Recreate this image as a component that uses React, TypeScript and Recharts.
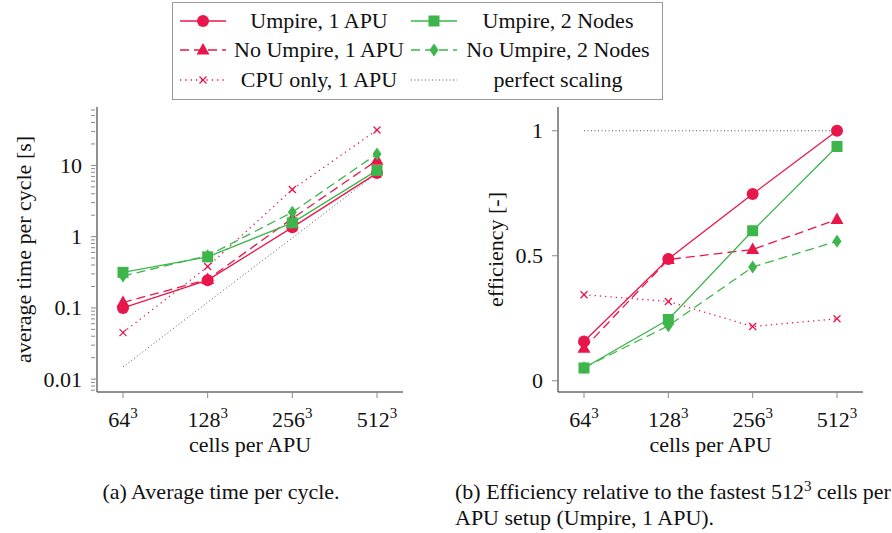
import { LineChart, Line, XAxis, YAxis } from 'recharts';

// cells per APU (shown as N^3)
const categories = ['64', '128', '256', '512'];

// average time per cycle [s]
const umpire1Time = [0.1, 0.245, 1.35, 7.8];
const umpire2Time = [0.315, 0.52, 1.56, 8.5];
const noUmpire1Time = [0.119, 0.25, 1.8, 11.8];
const noUmpire2Time = [0.28, 0.54, 2.2, 14.5];
const cpuOnlyTime = [0.045, 0.38, 4.6, 31.4];
const perfectTime = [0.0148, 0.12, 0.96, 7.8];

// efficiency [-]
const umpire1Eff = [0.157, 0.487, 0.747, 1.0];
const umpire2Eff = [0.051, 0.245, 0.6, 0.937];
const noUmpire1Eff = [0.13, 0.485, 0.525, 0.645];
const noUmpire2Eff = [0.052, 0.22, 0.455, 0.558];
const cpuOnlyEff = [0.344, 0.317, 0.217, 0.248];
const perfectEff = [1, 1, 1, 1];

const timeMajorTicks = [0.01, 0.1, 1, 10];
const timeMinorTicks = [
  0.007, 0.008, 0.009,
  0.02, 0.03, 0.04, 0.05, 0.06, 0.07, 0.08, 0.09,
  0.2, 0.3, 0.4, 0.5, 0.6, 0.7, 0.8, 0.9,
  2, 3, 4, 5, 6, 7, 8, 9,
  20, 30, 40, 50, 60,
];
const effTicks = [0, 0.5, 1];

const RED = '#e8174b';
const GREEN = '#3db54a';
const TICK = '#8a8a8a';
const FONT = '"Liberation Serif", serif';

type Marker = 'circle' | 'square' | 'triangle' | 'diamond' | 'cross' | 'none';

const series: { key: string; name: string; color: string; dash?: string; marker: Marker }[] = [
  { key: 'umpire1', name: 'Umpire, 1 APU', color: RED, marker: 'circle' },
  { key: 'umpire2', name: 'Umpire, 2 Nodes', color: GREEN, marker: 'square' },
  { key: 'noUmpire1', name: 'No Umpire, 1 APU', color: RED, dash: '9 5', marker: 'triangle' },
  { key: 'noUmpire2', name: 'No Umpire, 2 Nodes', color: GREEN, dash: '9 5', marker: 'diamond' },
  { key: 'cpuOnly', name: 'CPU only, 1 APU', color: RED, dash: '1.3 4', marker: 'cross' },
  { key: 'perfect', name: 'perfect scaling', color: '#555', dash: '1 2.5', marker: 'none' },
];

// back to front
const drawOrder = ['perfect', 'cpuOnly', 'noUmpire1', 'noUmpire2', 'umpire1', 'umpire2'];

const timeData = categories.map((c, i) => ({
  x: c,
  umpire1: umpire1Time[i],
  umpire2: umpire2Time[i],
  noUmpire1: noUmpire1Time[i],
  noUmpire2: noUmpire2Time[i],
  cpuOnly: cpuOnlyTime[i],
  perfect: perfectTime[i],
}));

const effData = categories.map((c, i) => ({
  x: c,
  umpire1: umpire1Eff[i],
  umpire2: umpire2Eff[i],
  noUmpire1: noUmpire1Eff[i],
  noUmpire2: noUmpire2Eff[i],
  cpuOnly: cpuOnlyEff[i],
  perfect: perfectEff[i],
}));

function MarkerShape({ cx, cy, marker, color }: { cx: number; cy: number; marker: Marker; color: string }) {
  switch (marker) {
    case 'circle':
      return <circle cx={cx} cy={cy} r={6} fill={color} />;
    case 'square':
      return <rect x={cx - 5.5} y={cy - 5.5} width={11} height={11} fill={color} />;
    case 'triangle':
      return <polygon points={`${cx},${cy - 7} ${cx - 6.5},${cy + 4.5} ${cx + 6.5},${cy + 4.5}`} fill={color} />;
    case 'diamond':
      return <polygon points={`${cx},${cy - 6.5} ${cx + 4.5},${cy} ${cx},${cy + 6.5} ${cx - 4.5},${cy}`} fill={color} />;
    case 'cross':
      return (
        <g stroke={color} strokeWidth={1.3}>
          <line x1={cx - 3.5} y1={cy - 3.5} x2={cx + 3.5} y2={cy + 3.5} />
          <line x1={cx - 3.5} y1={cy + 3.5} x2={cx + 3.5} y2={cy - 3.5} />
        </g>
      );
    default:
      return null;
  }
}

const makeDot = (key: string, marker: Marker, color: string) => (props: any) => {
  const { cx, cy, index } = props;
  if (marker === 'none' || cx == null || cy == null) return <g key={`${key}-${index}`} />;
  return (
    <g key={`${key}-${index}`}>
      <MarkerShape cx={cx} cy={cy} marker={marker} color={color} />
    </g>
  );
};

function XTick(props: any) {
  const { x, y, payload, top } = props;
  if (top) return <line x1={x} x2={x} y1={y} y2={y + 7} stroke={TICK} />;
  return (
    <g>
      <line x1={x} x2={x} y1={y} y2={y - 7} stroke={TICK} />
      <text x={x} y={y + 29} textAnchor="middle" fontSize={22} style={{ fontFamily: FONT }} fill="#111">
        {payload.value}
        <tspan dy={-9} fontSize={15}>3</tspan>
      </text>
    </g>
  );
}

function YTick(props: any) {
  const { x, y, payload, side, majors } = props;
  const major = majors.includes(payload.value);
  const len = major ? 7 : 4;
  const dir = side === 'left' ? 1 : -1;
  return (
    <g>
      <line x1={x} x2={x + dir * len} y1={y} y2={y} stroke={TICK} />
      {side === 'left' && major && (
        <text x={x - 9} y={y + 7.5} textAnchor="end" fontSize={22} style={{ fontFamily: FONT }} fill="#111">
          {String(payload.value)}
        </text>
      )}
    </g>
  );
}

function renderLines(data: 'time' | 'eff') {
  return drawOrder.map(k => {
    const s = series.find(v => v.key === k)!;
    return (
      <Line
        key={`${data}-${k}`}
        yAxisId="left"
        dataKey={k}
        stroke={s.color}
        strokeWidth={s.key === 'perfect' ? 1 : 1.3}
        strokeDasharray={s.dash}
        dot={s.marker === 'none' ? false : makeDot(`${data}-${k}`, s.marker, s.color)}
        activeDot={false}
        isAnimationActive={false}
      />
    );
  });
}

function LegendBox() {
  const rows = [
    ['umpire1', 'umpire2'],
    ['noUmpire1', 'noUmpire2'],
    ['cpuOnly', 'perfect'],
  ];
  const rowCenters = [19, 48, 78];
  const sampleCenters = [31, 262];
  const textCenters = [146, 385];
  return (
    <div
      style={{
        position: 'absolute',
        left: 172,
        top: 2,
        width: 491,
        height: 98,
        boxSizing: 'border-box',
        border: '1px solid #999',
        background: '#fff',
        fontFamily: FONT,
        fontSize: 22,
        color: '#111',
      }}
    >
      {rows.map((row, r) =>
        row.map((k, c) => {
          const s = series.find(v => v.key === k)!;
          return (
            <div key={k}>
              <svg
                width={46}
                height={14}
                style={{ position: 'absolute', left: sampleCenters[c] - 24, top: rowCenters[r] - 8 }}
              >
                <line x1={0} x2={46} y1={7} y2={7} stroke={s.color} strokeWidth={s.key === 'perfect' ? 1 : 1.3} strokeDasharray={s.dash} />
                <MarkerShape cx={23} cy={7} marker={s.marker} color={s.color} />
              </svg>
              <div
                style={{
                  position: 'absolute',
                  left: textCenters[c] - 100,
                  width: 200,
                  top: rowCenters[r] - 14,
                  lineHeight: '26px',
                  textAlign: 'center',
                  whiteSpace: 'nowrap',
                }}
              >
                {s.name}
              </div>
            </div>
          );
        })
      )}
    </div>
  );
}

const labelStyle = { textAnchor: 'middle' as const, fontSize: 22, fontFamily: FONT, fill: '#111' };

export default function App() {
  return (
    <div style={{ position: 'absolute', left: 0, top: 0, width: 892, height: 533, background: '#fff', fontFamily: FONT }}>
      {/* (a) average time per cycle */}
      <div style={{ position: 'absolute', left: 0, top: 0 }}>
        <LineChart width={420} height={460} data={timeData} margin={{ top: 107, right: 17, bottom: 0, left: 0 }}>
          <XAxis
            dataKey="x"
            height={68}
            padding={{ left: 26, right: 26 }}
            axisLine={{ stroke: '#222' }}
            tickLine={false}
            tickMargin={0}
            interval={0}
            tick={(p: any) => <XTick {...p} />}
            label={{ value: 'cells per APU', position: 'insideBottom', offset: 8, style: labelStyle }}
          />
          <XAxis
            xAxisId="top"
            dataKey="x"
            orientation="top"
            height={0}
            padding={{ left: 26, right: 26 }}
            axisLine={{ stroke: '#222' }}
            tickLine={false}
            tickMargin={0}
            interval={0}
            tick={(p: any) => <XTick {...p} top />}
          />
          <YAxis
            yAxisId="left"
            type="number"
            scale="log"
            domain={[0.0066, 66]}
            allowDataOverflow
            ticks={[...timeMajorTicks, ...timeMinorTicks]}
            interval={0}
            width={97}
            axisLine={{ stroke: '#222' }}
            tickLine={false}
            tickMargin={0}
            tick={(p: any) => <YTick {...p} side="left" majors={timeMajorTicks} />}
            label={{ value: 'average time per cycle [s]', angle: -90, position: 'insideLeft', offset: 23, style: labelStyle }}
          />
          <YAxis
            yAxisId="right"
            orientation="right"
            type="number"
            scale="log"
            domain={[0.0066, 66]}
            allowDataOverflow
            ticks={[...timeMajorTicks, ...timeMinorTicks]}
            interval={0}
            width={0}
            axisLine={{ stroke: '#222' }}
            tickLine={false}
            tickMargin={0}
            tick={(p: any) => <YTick {...p} side="right" majors={timeMajorTicks} />}
          />
          {renderLines('time')}
        </LineChart>
      </div>

      {/* (b) efficiency */}
      <div style={{ position: 'absolute', left: 440, top: 0 }}>
        <LineChart width={452} height={460} data={effData} margin={{ top: 107, right: 29, bottom: 0, left: 0 }}>
          <XAxis
            dataKey="x"
            height={68}
            padding={{ left: 26, right: 26 }}
            axisLine={{ stroke: '#222' }}
            tickLine={false}
            tickMargin={0}
            interval={0}
            tick={(p: any) => <XTick {...p} />}
            label={{ value: 'cells per APU', position: 'insideBottom', offset: 8, style: labelStyle }}
          />
          <XAxis
            xAxisId="top"
            dataKey="x"
            orientation="top"
            height={0}
            padding={{ left: 26, right: 26 }}
            axisLine={{ stroke: '#222' }}
            tickLine={false}
            tickMargin={0}
            interval={0}
            tick={(p: any) => <XTick {...p} top />}
          />
          <YAxis
            yAxisId="left"
            type="number"
            domain={[-0.045, 1.095]}
            allowDataOverflow
            ticks={effTicks}
            interval={0}
            width={118}
            axisLine={{ stroke: '#222' }}
            tickLine={false}
            tickMargin={0}
            tick={(p: any) => <YTick {...p} side="left" majors={effTicks} />}
            label={{ value: 'efficiency [-]', angle: -90, position: 'insideLeft', offset: 55, style: labelStyle }}
          />
          <YAxis
            yAxisId="right"
            orientation="right"
            type="number"
            domain={[-0.045, 1.095]}
            allowDataOverflow
            ticks={effTicks}
            interval={0}
            width={0}
            axisLine={{ stroke: '#222' }}
            tickLine={false}
            tickMargin={0}
            tick={(p: any) => <YTick {...p} side="right" majors={effTicks} />}
          />
          {renderLines('eff')}
        </LineChart>
      </div>

      <LegendBox />

      <div
        style={{
          position: 'absolute',
          left: 0,
          width: 442,
          top: 479,
          lineHeight: '26px',
          fontSize: 22,
          textAlign: 'center',
          color: '#111',
        }}
      >
        (a) Average time per cycle.
      </div>
      <div
        style={{
          position: 'absolute',
          left: 455,
          top: 479,
          lineHeight: '26px',
          fontSize: 22,
          whiteSpace: 'nowrap',
          color: '#111',
        }}
      >
        (b) Efficiency relative to the fastest 512<sup style={{ fontSize: 15, verticalAlign: 'top', lineHeight: '14px' }}>3</sup> cells per
        <br />
        APU setup (Umpire, 1 APU).
      </div>
    </div>
  );
}
